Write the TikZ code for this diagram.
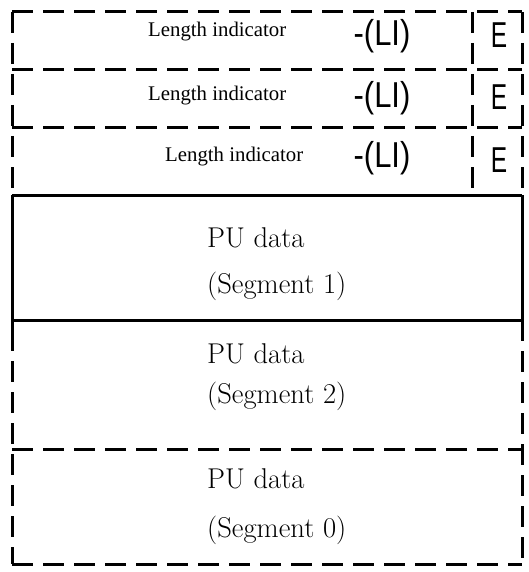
\documentclass[tikz,border=0pt]{standalone}
\usepackage{fontspec}
\newfontfamily\serifface{Liberation Serif}
\newfontfamily\sansface{Liberation Sans}
\begin{document}
\begin{tikzpicture}[x=1pt,y=-1pt,
  rule/.style={line width=3pt, line cap=butt},
  dashrule/.style={rule, dash pattern=on 21pt off 10pt},
  lentext/.style={font=\serifface\fontsize{20.8}{24}\selectfont, inner sep=0pt, anchor=base west},
  putext/.style={font=\fontsize{28.6}{32}\selectfont, inner sep=0pt, anchor=base west},
  codetext/.style={font=\sansface\fontsize{36}{40}\selectfont, inner sep=0pt, anchor=center}]
\useasboundingbox (0,0) rectangle (529,572);

% corner and row boundary points
\coordinate (tl) at (12,12);   \coordinate (tr) at (522,12);
\coordinate (r1l) at (12,70);  \coordinate (r1r) at (522,70);
\coordinate (r2l) at (12,128); \coordinate (r2r) at (522,128);
\coordinate (r3l) at (12,195); \coordinate (r3r) at (522,195);
\coordinate (r4l) at (12,320); \coordinate (r4r) at (522,320);
\coordinate (r5l) at (12,449); \coordinate (r5r) at (522,449);
\coordinate (bl) at (12,564);  \coordinate (br) at (522,564);
\coordinate (dtop) at (472,12); \coordinate (dbot) at (472,195);

% header rows (dashed)
\draw[dashrule] (tl) -- (tr);
\draw[dashrule] (r1l) -- (r1r);
\draw[dashrule] (r2l) -- (r2r);
\draw[dashrule] (tl) -- (r3l);
\draw[dashrule] (tr) -- (r3r);
\draw[dashrule] (dtop) -- (dbot);

% segment 1 (solid)
\draw[rule] (r3l) -- (r3r);
\draw[rule] (r4l) -- (r4r);
\draw[rule] (r3l) -- (12,330);
\draw[rule] (r3r) -- (r4r);

% segments 2 and 0 (dashed)
\draw[dashrule] (12,330) -- (bl);
\draw[dashrule] (r4r) -- (br);
\draw[dashrule] (r5l) -- (r5r);
\draw[dashrule] (bl) -- (br);

% header texts
\node[lentext] (len1) at (148,37) {Length indicator};
\node[lentext] (len2) at (148,101) {Length indicator};
\node[lentext] (len3) at (165,161) {Length indicator};
\node[codetext] (li1) at (382,36) {\scalebox{0.86}[1]{-(LI)}};
\node[codetext] (li2) at (382,98) {\scalebox{0.86}[1]{-(LI)}};
\node[codetext] (li3) at (382,158) {\scalebox{0.86}[1]{-(LI)}};
\node[codetext] (e1) at (499,35) {\scalebox{0.68}[1]{E}};
\node[codetext] (e2) at (499,97) {\scalebox{0.68}[1]{E}};
\node[codetext] (e3) at (499,160) {\scalebox{0.68}[1]{E}};

% data texts
\node[putext] (pu1) at (207,247) {PU data};
\node[putext] (sg1) at (207,293) {(Segment 1)};
\node[putext] (pu2) at (207,363) {PU data};
\node[putext] (sg2) at (207,403) {(Segment 2)};
\node[putext] (pu0) at (207,488) {PU data};
\node[putext] (sg0) at (207,537) {(Segment 0)};
\end{tikzpicture}
\end{document}
